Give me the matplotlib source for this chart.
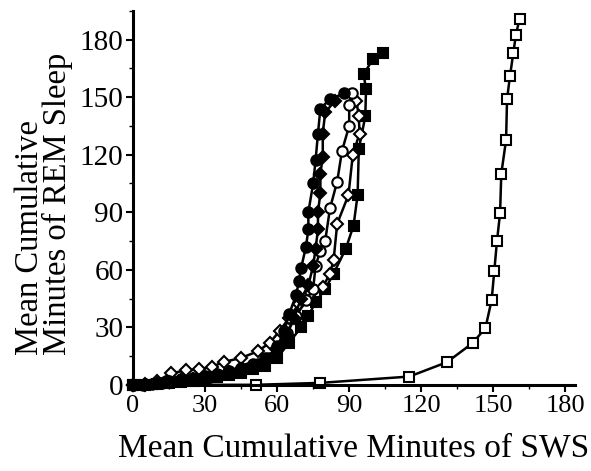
import matplotlib.pyplot as plt
from matplotlib.ticker import MultipleLocator

plt.rcParams['font.family'] = ['Liberation Serif', 'DejaVu Serif']

# filled circles
fc_x = [0, 4, 8, 12, 16, 20, 24, 28, 32, 36, 40, 44, 48, 52, 56, 60, 63, 65, 68, 69, 70, 72, 73, 73, 75, 76, 77, 78, 82, 88]
fc_y = [0, 0, 0.5, 1, 1.5, 2, 2.5, 3, 4, 5, 6, 7, 9, 11, 14, 20, 28, 37, 47, 54, 61, 72, 81, 90, 105, 117, 131, 144, 149, 152]
# filled diamonds
fd_x = [0, 5, 10, 15, 20, 25, 30, 35, 40, 45, 50, 55, 60, 64, 67, 70, 73, 75, 76, 77, 77, 78, 78, 79, 79, 80, 84]
fd_y = [0, 0, 1, 1.5, 2.5, 3, 4, 5, 6.5, 8, 10, 13, 18, 26, 35, 45, 52, 62, 71, 81, 90, 100, 110, 119, 131, 142, 148]
# open circles
oc_x = [0, 5, 10, 15, 20, 25, 30, 35, 40, 45, 50, 55, 60, 64, 68, 72, 75, 76, 78, 80, 82, 85, 87, 90, 90, 91]
oc_y = [0, 0.5, 1, 2, 3, 3.5, 4.5, 5.5, 7, 9, 11, 14, 19, 27, 36, 44, 50, 62, 70, 75, 92, 106, 122, 135, 146, 152]
# open diamonds
od_x = [0, 5, 10, 16, 22, 27.5, 33, 38, 45, 52, 57, 61, 65, 69, 74, 79, 82, 83.5, 85, 89.7, 91.5, 94.3, 94, 93]
od_y = [0, 0.5, 2, 6, 7.5, 8, 9.5, 12, 14, 17.5, 22, 28, 35, 42, 48, 51, 58, 65, 84, 99, 120, 131, 140, 148]
# filled squares
fs_x = [0, 5, 10, 15, 20, 25, 30, 35, 40, 45, 50, 55, 60, 65, 70, 73, 76, 80, 83.5, 88.6, 91.8, 93.5, 94, 96.7, 97, 96, 100, 104]
fs_y = [0, 0, 0.5, 1, 1.5, 2, 3, 4, 5, 6, 8, 10, 14, 22, 30, 36, 43, 50, 58, 71, 83, 99, 123, 140, 154, 162, 170, 173]
# open squares
os_x = [0, 51, 78, 115, 130.7, 141.4, 146.7, 149.3, 150.4, 151.5, 152.8, 153.3, 155.3, 155.7, 156.9, 158.3, 159.4, 160.9]
os_y = [0, 0, 1, 4.3, 11.8, 21.8, 29.6, 44.3, 59.6, 74.8, 89.6, 110, 127.8, 149, 160.8, 173, 182.6, 190.8]

fig = plt.figure(figsize=(5.91, 4.71), dpi=100)
ax = fig.add_axes([0.225, 0.183, 0.748, 0.794])

kw = dict(color='black', lw=1.8, ms=7.5, clip_on=False, mew=1.5)
ax.plot(os_x, os_y, marker='s', mfc='white', **kw)
ax.plot(fs_x, fs_y, marker='s', mfc='black', **kw)
ax.plot(od_x, od_y, marker='D', mfc='white', **dict(kw, ms=6))
ax.plot(oc_x, oc_y, marker='o', mfc='white', **kw)
ax.plot(fd_x, fd_y, marker='D', mfc='black', **dict(kw, ms=6))
ax.plot(fc_x, fc_y, marker='o', mfc='black', **kw)

ax.set_xlim(0, 184)
ax.set_ylim(0, 195)
ax.set_xticks([0, 30, 60, 90, 120, 150, 180])
ax.set_yticks([0, 30, 60, 90, 120, 150, 180])
ax.xaxis.set_minor_locator(MultipleLocator(15))
ax.yaxis.set_minor_locator(MultipleLocator(15))
ax.spines['top'].set_visible(False)
ax.spines['right'].set_visible(False)
ax.spines['left'].set_linewidth(2.2)
ax.spines['bottom'].set_linewidth(2.2)
ax.tick_params(which='major', direction='out', length=5, width=1.5, pad=2)
ax.tick_params(which='minor', direction='out', length=3, width=1)
ax.tick_params(axis='x', labelsize=19)
ax.tick_params(axis='y', labelsize=21)

ax.set_xlabel('Mean Cumulative Minutes of SWS', fontsize=24, labelpad=12)
fig.text(0.025, 0.246, 'Mean Cumulative\nMinutes of REM Sleep', fontsize=23.5,
         rotation=90, ha='left', va='bottom', multialignment='left', linespacing=0.85)

fig.savefig('out.png', dpi=100)
